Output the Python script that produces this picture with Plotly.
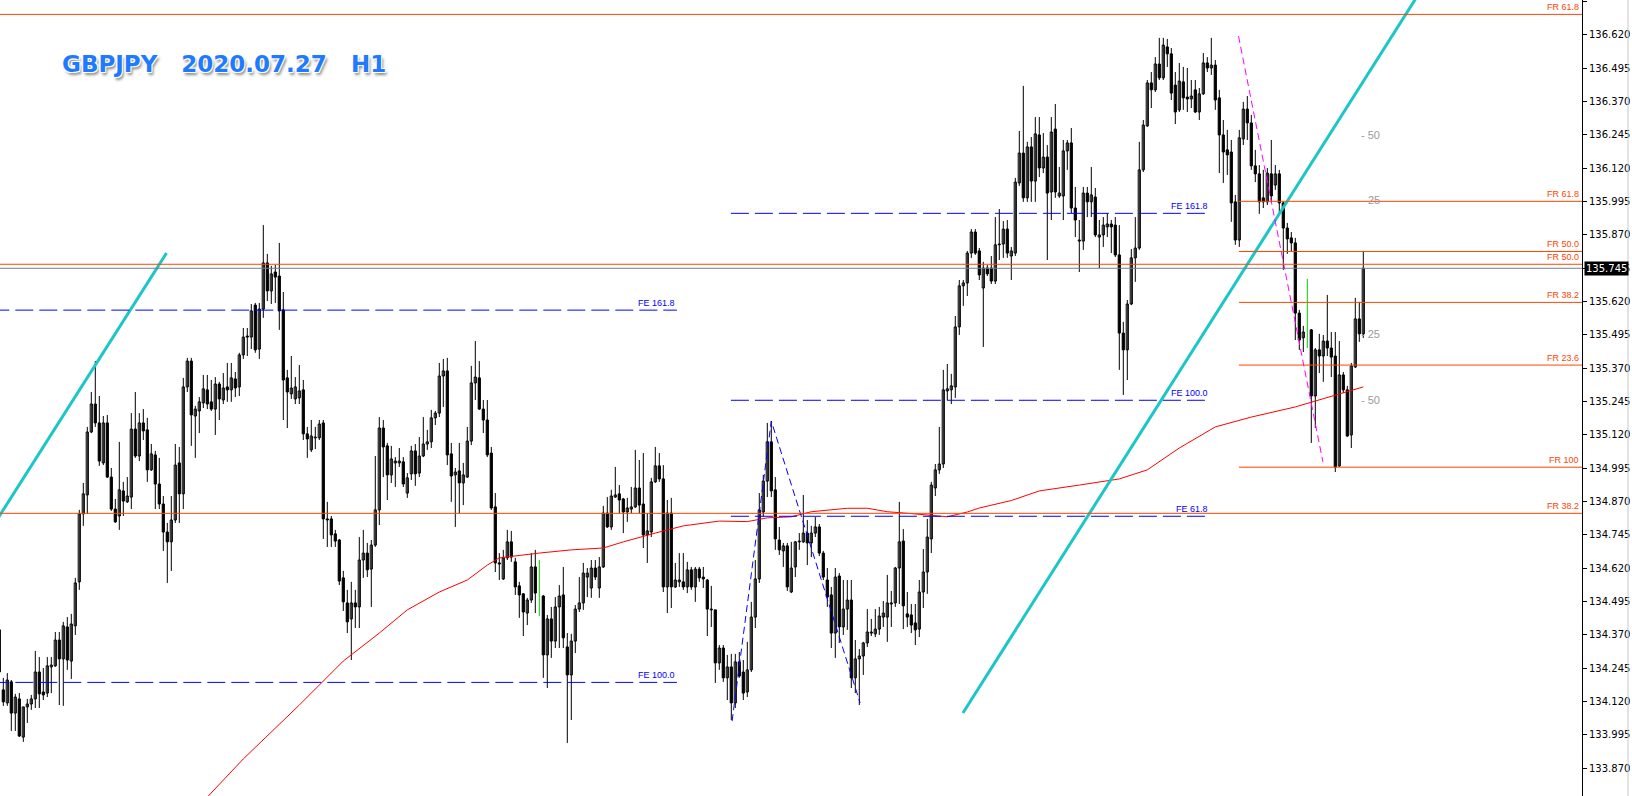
"""
GBPJPY H1 chart (MT4 style) rebuilt with Plotly
"""

import plotly.graph_objects as go

# ---- candle data, index 0 = leftmost bar on screen ----
opens = [
    134.389, 134.164, 134.115, 134.194, 134.077, 134.130, 133.987, 134.100, 134.111, 134.130,
    134.231, 134.156, 134.152, 134.250, 134.254, 134.351, 134.280, 134.400, 134.272, 134.404,
    134.569, 134.824, 134.895, 135.131, 135.236, 135.165, 135.015, 135.165, 134.962, 134.842,
    134.816, 134.910, 134.869, 134.887, 135.142, 135.041, 135.165, 135.139, 134.989, 135.045,
    134.936, 134.861, 134.756, 134.719, 134.801, 135.015, 134.899, 135.300, 135.397, 135.191,
    135.210, 135.240, 135.289, 135.244, 135.217, 135.311, 135.251, 135.300, 135.289, 135.330,
    135.300, 135.420, 135.491, 135.487, 135.607, 135.442, 135.592, 135.765, 135.660, 135.731,
    135.716, 135.589, 135.334, 135.274, 135.255, 135.259, 135.289, 135.124, 135.064, 135.109,
    135.109, 135.165, 134.805, 134.805, 134.749, 134.726, 134.584, 134.490, 134.430, 134.490,
    134.475, 134.651, 134.677, 134.617, 134.707, 134.839, 135.146, 135.079, 134.970, 135.015,
    135.015, 135.019, 134.902, 134.974, 135.060, 134.977, 135.041, 135.086, 135.094, 135.184,
    135.202, 135.341, 135.360, 135.049, 134.970, 134.985, 134.940, 134.962, 135.097, 135.315,
    135.334, 135.217, 135.176, 135.052, 134.850, 134.640, 134.580, 134.659, 134.719, 134.644,
    134.554, 134.524, 134.452, 134.501, 134.625, 134.520, 134.516, 134.295, 134.430, 134.347,
    134.475, 134.520, 134.325, 134.220, 134.347, 134.467, 134.490, 134.587, 134.546, 134.621,
    134.546, 134.625, 134.827, 134.775, 134.887, 134.899, 134.880, 134.831, 134.842, 134.850,
    134.921, 134.861, 134.745, 134.756, 134.944, 135.004, 134.955, 134.550, 134.827, 134.550,
    134.569, 134.569, 134.550, 134.614, 134.550, 134.617, 134.587, 134.576, 134.467, 134.464,
    134.265, 134.321, 134.209, 134.250, 134.115, 134.269, 134.231, 134.156, 134.239, 134.437,
    134.580, 134.831, 134.947, 135.094, 134.914, 134.726, 134.685, 134.704, 134.531, 134.625,
    134.719, 134.719, 134.752, 134.715, 134.752, 134.775, 134.677, 134.576, 134.520, 134.377,
    134.591, 134.400, 134.467, 134.501, 134.209, 134.280, 134.291, 134.340, 134.377, 134.374,
    134.392, 134.437, 134.437, 134.486, 134.490, 134.621, 134.722, 134.449, 134.445, 134.415,
    134.392, 134.531, 134.606, 134.730, 134.921, 134.989, 135.011, 135.285, 135.289, 135.300,
    135.525, 135.679, 135.690, 135.802, 135.881, 135.810, 135.671, 135.746, 135.746, 135.697,
    135.833, 135.836, 135.892, 135.791, 135.802, 136.065, 136.177, 136.009, 136.200, 136.072,
    136.245, 136.121, 136.162, 136.031, 136.267, 136.016, 136.016, 136.185, 136.215, 135.971,
    135.847, 135.847, 136.027, 135.994, 136.012, 135.862, 135.870, 135.900, 135.911, 135.907,
    135.795, 135.502, 135.439, 135.611, 135.784, 135.821, 136.114, 136.279, 136.440, 136.414,
    136.511, 136.459, 136.575, 136.549, 136.432, 136.339, 136.444, 136.387, 136.380, 136.414,
    136.331, 136.399, 136.515, 136.496, 136.507, 136.384, 136.245, 136.189, 136.181, 135.994,
    135.851, 136.230, 136.342, 136.290, 136.129, 136.099, 136.009, 135.994, 136.099, 136.057,
    136.099, 135.990, 135.896, 135.859, 135.840, 135.577, 135.484, 135.510, 135.514, 135.266,
    135.439, 135.416, 135.472, 135.446, 135.416, 135.004, 135.345, 135.289, 135.120, 135.375,
    135.555, 135.499,
]
highs = [
    134.422, 134.209, 134.227, 134.201, 134.149, 134.152, 134.100, 134.130, 134.145, 134.310,
    134.287, 134.246, 134.287, 134.287, 134.381, 134.381, 134.419, 134.437, 134.449, 134.584,
    134.839, 134.940, 135.150, 135.281, 135.397, 135.266, 135.191, 135.195, 134.996, 134.880,
    135.094, 134.944, 134.962, 135.202, 135.281, 135.202, 135.217, 135.184, 135.086, 135.060,
    135.034, 134.891, 134.790, 134.891, 135.086, 135.075, 135.334, 135.409, 135.409, 135.229,
    135.262, 135.345, 135.345, 135.326, 135.337, 135.319, 135.352, 135.390, 135.390, 135.356,
    135.428, 135.521, 135.521, 135.611, 135.615, 135.615, 135.907, 135.799, 135.754, 135.757,
    135.840, 135.656, 135.364, 135.416, 135.337, 135.382, 135.326, 135.150, 135.176, 135.150,
    135.176, 135.176, 134.869, 134.816, 134.764, 134.730, 134.610, 134.539, 134.569, 134.539,
    134.737, 134.764, 134.715, 134.726, 135.041, 135.187, 135.176, 135.090, 135.079, 135.037,
    135.071, 135.037, 134.977, 135.079, 135.086, 135.112, 135.187, 135.139, 135.214, 135.210,
    135.390, 135.405, 135.409, 135.090, 134.996, 135.090, 135.015, 135.150, 135.379, 135.472,
    135.397, 135.251, 135.251, 135.075, 134.902, 134.677, 134.689, 134.764, 134.760, 134.659,
    134.569, 134.527, 134.509, 134.677, 134.689, 134.651, 134.520, 134.445, 134.475, 134.512,
    134.557, 134.625, 134.377, 134.374, 134.482, 134.587, 134.640, 134.621, 134.651, 134.651,
    134.662, 134.854, 134.887, 134.914, 135.000, 134.932, 134.884, 134.884, 134.925, 135.064,
    135.026, 135.052, 134.827, 134.959, 135.075, 135.052, 135.007, 134.876, 134.884, 134.640,
    134.677, 134.677, 134.644, 134.625, 134.625, 134.625, 134.625, 134.580, 134.554, 134.464,
    134.332, 134.332, 134.295, 134.299, 134.299, 134.306, 134.276, 134.344, 134.494, 134.651,
    134.902, 134.970, 135.165, 135.172, 134.962, 134.775, 134.715, 134.715, 134.719, 134.722,
    134.752, 134.895, 134.801, 134.779, 134.812, 134.786, 134.685, 134.621, 134.550, 134.621,
    134.602, 134.576, 134.576, 134.576, 134.351, 134.317, 134.344, 134.467, 134.430, 134.467,
    134.475, 134.497, 134.595, 134.535, 134.625, 134.869, 134.767, 134.531, 134.486, 134.486,
    134.576, 134.692, 134.805, 134.944, 135.011, 135.150, 135.364, 135.386, 135.349, 135.566,
    135.701, 135.701, 135.810, 135.892, 135.892, 135.821, 135.769, 135.757, 135.791, 135.937,
    135.967, 135.922, 135.926, 135.825, 136.084, 136.260, 136.429, 136.219, 136.237, 136.312,
    136.312, 136.252, 136.207, 136.312, 136.361, 136.125, 136.226, 136.226, 136.271, 136.050,
    135.926, 136.050, 136.050, 136.125, 136.046, 135.926, 135.937, 135.952, 135.926, 135.937,
    135.907, 135.544, 135.626, 135.817, 135.937, 136.219, 136.301, 136.451, 136.481, 136.537,
    136.609, 136.609, 136.605, 136.571, 136.481, 136.515, 136.500, 136.496, 136.451, 136.451,
    136.421, 136.552, 136.537, 136.609, 136.526, 136.414, 136.301, 136.264, 136.226, 136.020,
    136.264, 136.369, 136.391, 136.320, 136.189, 136.132, 136.114, 136.121, 136.226, 136.132,
    136.114, 135.994, 135.915, 135.881, 135.859, 135.589, 135.529, 135.705, 135.517, 135.446,
    135.499, 135.495, 135.645, 135.506, 135.506, 135.472, 135.356, 135.304, 135.390, 135.634,
    135.619, 135.810,
]
lows = [
    134.164, 134.104, 134.104, 134.010, 134.010, 133.987, 133.969, 134.040, 134.089, 134.096,
    134.096, 134.126, 134.137, 134.152, 134.250, 134.107, 134.104, 134.239, 134.205, 134.370,
    134.539, 134.779, 134.824, 135.127, 135.150, 135.004, 135.007, 134.959, 134.835, 134.790,
    134.764, 134.816, 134.865, 134.842, 135.034, 135.022, 135.101, 134.944, 134.985, 134.842,
    134.842, 134.685, 134.565, 134.610, 134.790, 134.790, 134.842, 135.281, 135.079, 135.034,
    135.127, 135.221, 135.217, 135.210, 135.120, 135.176, 135.236, 135.244, 135.244, 135.262,
    135.266, 135.405, 135.416, 135.442, 135.428, 135.405, 135.559, 135.622, 135.611, 135.615,
    135.514, 135.176, 135.146, 135.255, 135.236, 135.236, 135.101, 135.034, 135.056, 135.067,
    135.101, 134.730, 134.700, 134.700, 134.700, 134.557, 134.460, 134.377, 134.276, 134.396,
    134.396, 134.584, 134.587, 134.475, 134.700, 134.782, 134.962, 134.876, 134.940, 134.925,
    135.000, 134.925, 134.884, 134.951, 134.929, 134.962, 135.037, 135.064, 135.071, 135.157,
    135.187, 135.225, 135.007, 134.869, 134.775, 134.827, 134.857, 134.959, 135.082, 135.251,
    135.214, 135.127, 135.037, 134.839, 134.606, 134.576, 134.576, 134.651, 134.644, 134.520,
    134.434, 134.366, 134.407, 134.490, 134.452, 134.441, 134.209, 134.171, 134.284, 134.321,
    134.321, 134.321, 133.965, 134.051, 134.302, 134.456, 134.464, 134.512, 134.509, 134.576,
    134.509, 134.621, 134.771, 134.764, 134.884, 134.827, 134.752, 134.794, 134.827, 134.846,
    134.827, 134.696, 134.640, 134.737, 134.940, 134.944, 134.531, 134.452, 134.471, 134.546,
    134.550, 134.539, 134.527, 134.539, 134.494, 134.569, 134.546, 134.366, 134.400, 134.190,
    134.239, 134.194, 134.126, 134.051, 134.096, 134.209, 134.126, 134.137, 134.231, 134.396,
    134.565, 134.812, 134.887, 134.887, 134.689, 134.670, 134.625, 134.535, 134.527, 134.587,
    134.689, 134.715, 134.632, 134.662, 134.737, 134.666, 134.576, 134.475, 134.321, 134.284,
    134.340, 134.370, 134.389, 134.171, 134.152, 134.107, 134.220, 134.325, 134.366, 134.362,
    134.370, 134.400, 134.344, 134.400, 134.475, 134.486, 134.392, 134.400, 134.377, 134.332,
    134.362, 134.471, 134.524, 134.677, 134.891, 134.974, 134.996, 135.251, 135.236, 135.259,
    135.495, 135.604, 135.641, 135.784, 135.795, 135.701, 135.450, 135.716, 135.686, 135.686,
    135.776, 135.784, 135.784, 135.701, 135.791, 136.054, 135.994, 135.994, 135.994, 135.994,
    136.087, 136.102, 135.776, 135.926, 136.009, 136.009, 135.926, 136.114, 135.952, 135.862,
    135.731, 135.814, 135.937, 135.937, 135.862, 135.746, 135.825, 135.862, 135.802, 135.787,
    135.364, 135.270, 135.326, 135.607, 135.694, 135.814, 136.106, 136.275, 136.346, 136.406,
    136.451, 136.451, 136.500, 136.376, 136.286, 136.331, 136.339, 136.331, 136.346, 136.327,
    136.301, 136.395, 136.481, 136.470, 136.339, 136.102, 136.065, 136.095, 135.919, 135.833,
    135.825, 136.207, 136.226, 136.114, 136.068, 135.949, 135.971, 135.982, 135.990, 136.039,
    135.952, 135.739, 135.799, 135.806, 135.476, 135.439, 135.431, 135.446, 135.090, 135.146,
    135.352, 135.319, 135.416, 135.337, 134.981, 135.000, 135.277, 135.112, 135.071, 135.371,
    135.469, 135.484,
]
closes = [
    134.231, 134.119, 134.201, 134.077, 134.137, 133.991, 134.100, 134.111, 134.130, 134.231,
    134.149, 134.145, 134.254, 134.257, 134.351, 134.280, 134.404, 134.276, 134.411, 134.565,
    134.824, 134.899, 135.131, 135.236, 135.165, 135.022, 135.165, 134.962, 134.842, 134.794,
    134.914, 134.872, 134.891, 135.142, 135.041, 135.165, 135.135, 134.989, 135.049, 134.936,
    134.861, 134.756, 134.719, 134.801, 135.007, 134.899, 135.300, 135.397, 135.195, 135.217,
    135.244, 135.293, 135.236, 135.217, 135.311, 135.255, 135.296, 135.289, 135.334, 135.296,
    135.420, 135.487, 135.487, 135.585, 135.439, 135.592, 135.765, 135.660, 135.724, 135.712,
    135.585, 135.326, 135.281, 135.296, 135.300, 135.285, 135.124, 135.105, 135.116, 135.112,
    135.161, 134.805, 134.801, 134.745, 134.722, 134.572, 134.494, 134.419, 134.490, 134.475,
    134.651, 134.677, 134.614, 134.707, 134.839, 135.146, 135.075, 134.970, 135.030, 135.022,
    135.022, 134.936, 134.959, 135.060, 134.974, 135.041, 135.086, 135.094, 135.184, 135.202,
    135.341, 135.360, 135.045, 134.966, 134.981, 134.940, 134.970, 135.097, 135.315, 135.337,
    135.217, 135.176, 135.045, 134.846, 134.640, 134.636, 134.659, 134.719, 134.662, 134.550,
    134.520, 134.456, 134.501, 134.625, 134.527, 134.520, 134.295, 134.430, 134.347, 134.475,
    134.516, 134.359, 134.220, 134.347, 134.467, 134.490, 134.602, 134.602, 134.621, 134.587,
    134.625, 134.827, 134.775, 134.891, 134.895, 134.876, 134.831, 134.846, 134.850, 134.921,
    134.857, 134.745, 134.760, 134.944, 135.004, 134.955, 134.550, 134.827, 134.550, 134.576,
    134.576, 134.550, 134.614, 134.550, 134.617, 134.584, 134.580, 134.467, 134.464, 134.265,
    134.321, 134.209, 134.250, 134.115, 134.269, 134.216, 134.152, 134.239, 134.437, 134.580,
    134.839, 134.947, 135.094, 134.910, 134.730, 134.689, 134.704, 134.550, 134.621, 134.719,
    134.722, 134.752, 134.715, 134.752, 134.775, 134.677, 134.587, 134.512, 134.377, 134.587,
    134.400, 134.467, 134.501, 134.209, 134.280, 134.291, 134.340, 134.381, 134.381, 134.392,
    134.441, 134.452, 134.490, 134.490, 134.621, 134.719, 134.479, 134.437, 134.407, 134.389,
    134.531, 134.606, 134.737, 134.932, 134.989, 135.011, 135.289, 135.293, 135.304, 135.525,
    135.679, 135.690, 135.802, 135.881, 135.802, 135.720, 135.746, 135.724, 135.697, 135.833,
    135.836, 135.892, 135.802, 135.810, 136.068, 136.177, 136.009, 136.200, 136.072, 136.249,
    136.121, 136.162, 136.027, 136.256, 136.031, 136.027, 136.185, 136.215, 135.971, 135.926,
    135.851, 136.027, 135.994, 136.020, 135.870, 135.870, 135.907, 135.911, 135.900, 135.795,
    135.502, 135.439, 135.611, 135.784, 135.821, 136.114, 136.282, 136.440, 136.414, 136.511,
    136.459, 136.582, 136.549, 136.402, 136.331, 136.447, 136.384, 136.380, 136.391, 136.331,
    136.399, 136.515, 136.496, 136.507, 136.376, 136.245, 136.181, 136.170, 135.990, 135.851,
    136.234, 136.342, 136.290, 136.129, 136.099, 135.994, 135.994, 136.102, 136.016, 136.099,
    135.990, 135.896, 135.855, 135.840, 135.577, 135.476, 135.506, 135.510, 135.266, 135.439,
    135.416, 135.472, 135.446, 135.412, 135.000, 135.345, 135.289, 135.116, 135.379, 135.555,
    135.499, 135.745,
]

# bars painted green by the terminal
green_bars = [135, 327]

# moving average (red), sampled at bar indices
ma_idx = [52, 56, 61, 75, 86, 95, 102, 110, 117, 122, 125, 135, 143, 151, 156, 164, 171, 180,
          187, 192, 198, 203, 212, 217, 222, 228, 237, 242, 245, 253, 260, 270, 280, 287,
          295, 304, 313, 324, 333, 341]
ma_val = [133.762, 133.826, 133.905, 134.107, 134.272, 134.377, 134.464, 134.531, 134.576,
          134.632, 134.659, 134.677, 134.689, 134.696, 134.719, 134.752, 134.779, 134.797,
          134.795, 134.809, 134.813, 134.832, 134.845, 134.845, 134.832, 134.825, 134.813,
          134.831, 134.846, 134.874, 134.910, 134.932, 134.955, 134.989, 135.071, 135.150,
          135.187, 135.225, 135.266, 135.300]

# drawn objects: (bar index, price)
chan_left_x = [-1.0, 41.8]
chan_left_y = [134.792, 135.802]
chan_right_x = [240.9, 356.0]
chan_right_y = [134.077, 136.801]
abc_x = [183.2, 193.0, 215.2]
abc_y = [134.047, 135.172, 134.115]
swing_x = [309.8, 330.9]
swing_y = [136.616, 135.019]

fr_full_levels = [136.697, 135.760, 134.826]
fr_full_labels = ["FR 61.8", "FR 50.0", "FR 38.2"]
fr_short_levels = [135.996, 135.808, 135.617, 135.382, 134.999]
fr_short_labels = ["FR 61.8", "FR 50.0", "FR 38.2", "FR 23.6", "FR 100"]
fr_short_start = 309.9

fe_left_levels = [135.588, 134.192]
fe_left_labels = ["FE 161.8", "FE 100.0"]
fe_left_end = 169.4
fe_right_levels = [135.951, 135.250, 134.815]
fe_right_labels = ["FE 161.8", "FE 100.0", "FE 61.8"]
fe_right_range = [182.9, 302.7]

grey_levels = [136.244, 136.000, 135.500, 135.250]
grey_labels = ["- 50", "25", "- 25", "- 50"]

last_price = 135.745

y_ticks = [133.870, 133.995, 134.120, 134.245, 134.370, 134.495, 134.620, 134.745,
           134.870, 134.995, 135.120, 135.245, 135.370, 135.495, 135.620, 135.745,
           135.870, 135.995, 136.120, 136.245, 136.370, 136.495, 136.620, 136.745]

FR_COLOR = "#FF4500"
FE_COLOR = "#0000FF"
LABEL_FONT = "Liberation Sans"

fig = go.Figure()

# wicks
wick_x, wick_y, green_x, green_y = [], [], [], []
for i in range(len(closes)):
    if i in green_bars:
        green_x += [i, i, None]
        green_y += [lows[i], highs[i], None]
    else:
        wick_x += [i, i, None]
        wick_y += [lows[i], highs[i], None]

fig.add_trace(go.Scatter(x=wick_x, y=wick_y, mode="lines",
                         line=dict(color="black", width=1), hoverinfo="skip"))
fig.add_trace(go.Scatter(x=green_x, y=green_y, mode="lines",
                         line=dict(color="#00CC00", width=1), hoverinfo="skip"))

# bodies: white = bull, black = bear
for bull in (True, False):
    sel = [i for i in range(len(closes))
           if i not in green_bars and (closes[i] >= opens[i]) == bull]
    fig.add_trace(go.Bar(
        x=sel,
        y=[max(abs(closes[i] - opens[i]), 0.0012) for i in sel],
        base=[min(opens[i], closes[i]) for i in sel],
        width=0.55,
        marker=dict(color="white" if bull else "black",
                    line=dict(color="black", width=1)),
        hoverinfo="skip",
    ))

# moving average
fig.add_trace(go.Scatter(x=ma_idx, y=ma_val, mode="lines",
                         line=dict(color="#FF0000", width=1), hoverinfo="skip"))

# channel lines
for xs, ys in ((chan_left_x, chan_left_y), (chan_right_x, chan_right_y)):
    fig.add_trace(go.Scatter(x=xs, y=ys, mode="lines",
                             line=dict(color="#1CC6C6", width=3), hoverinfo="skip"))

fig.add_trace(go.Scatter(x=abc_x, y=abc_y, mode="lines",
                         line=dict(color=FE_COLOR, width=1, dash="7px,4px"), hoverinfo="skip"))
fig.add_trace(go.Scatter(x=swing_x, y=swing_y, mode="lines",
                         line=dict(color="#FF00FF", width=1, dash="7px,4px"), hoverinfo="skip"))

annotations = []

# retracement levels
for lvl, txt in zip(fr_full_levels, fr_full_labels):
    fig.add_shape(type="line", xref="paper", x0=0, x1=1, yref="y", y0=lvl, y1=lvl,
                  line=dict(color=FR_COLOR, width=1), layer="above")
    annotations.append(dict(xref="paper", x=1, xanchor="right", xshift=-1, yref="y", y=lvl,
                            yanchor="bottom", text=txt, showarrow=False,
                            font=dict(family=LABEL_FONT, size=9, color=FR_COLOR)))
for lvl, txt in zip(fr_short_levels, fr_short_labels):
    fig.add_shape(type="line", xref="x", x0=fr_short_start, x1=395.675, yref="y", y0=lvl, y1=lvl,
                  line=dict(color=FR_COLOR, width=1), layer="above")
    annotations.append(dict(xref="paper", x=1, xanchor="right", xshift=-1, yref="y", y=lvl,
                            yanchor="bottom", text=txt, showarrow=False,
                            font=dict(family=LABEL_FONT, size=9, color=FR_COLOR)))

# expansion levels
for lvl, txt in zip(fe_left_levels, fe_left_labels):
    fig.add_shape(type="line", xref="x", x0=-2, x1=fe_left_end, yref="y", y0=lvl, y1=lvl,
                  line=dict(color=FE_COLOR, width=1, dash="18px,6px"), layer="above")
    annotations.append(dict(xref="x", x=fe_left_end, xanchor="right", yref="y", y=lvl,
                            yanchor="bottom", text=txt, showarrow=False,
                            font=dict(family=LABEL_FONT, size=9, color=FE_COLOR)))
for lvl, txt in zip(fe_right_levels, fe_right_labels):
    fig.add_shape(type="line", xref="x", x0=fe_right_range[0], x1=fe_right_range[1],
                  yref="y", y0=lvl, y1=lvl,
                  line=dict(color=FE_COLOR, width=1, dash="18px,6px"), layer="above")
    annotations.append(dict(xref="x", x=fe_right_range[1], xanchor="right", yref="y", y=lvl,
                            yanchor="bottom", text=txt, showarrow=False,
                            font=dict(family=LABEL_FONT, size=9, color=FE_COLOR)))

# current price line + tag
fig.add_shape(type="line", xref="paper", x0=0, x1=1, yref="y", y0=last_price, y1=last_price,
              line=dict(color="#708090", width=1), layer="above")
annotations.append(dict(xref="paper", x=1, xanchor="left", xshift=2, yref="y", y=last_price,
                        yanchor="middle", text=f"{last_price:.3f}", showarrow=False,
                        bgcolor="black", borderpad=1,
                        font=dict(family="DejaVu Sans", size=10, color="white")))

# grey level marks
for lvl, txt in zip(grey_levels, grey_labels):
    annotations.append(dict(xref="x", x=345.7, xanchor="right", yref="y", y=lvl,
                            yanchor="middle", text=txt, showarrow=False,
                            font=dict(family=LABEL_FONT, size=11, color="#9A9A9A")))

# title
annotations.append(dict(
    xref="paper", x=60 / 1582, xanchor="left", yref="paper", y=1 - 63.5 / 796, yanchor="middle",
    text="<b>GBPJPY&nbsp;&nbsp;&nbsp;2020.07.27&nbsp;&nbsp;&nbsp;H1</b>", showarrow=False,
    font=dict(family="DejaVu Sans", size=23, color="#1E7BFF",
              shadow="-1px -1px 0 #fff, 1px -1px 0 #fff, -1px 1px 0 #fff, 1px 1px 0 #fff, 2px 3px 3px #8a8a8a"),
))

# window border at far right
fig.add_shape(type="line", xref="paper", x0=1628 / 1582, x1=1628 / 1582, yref="paper", y0=0, y1=1,
              line=dict(color="#C8C8C8", width=1))

fig.update_layout(
    width=1632,
    height=796,
    margin=dict(l=0, r=50, t=0, b=0),
    paper_bgcolor="white",
    plot_bgcolor="white",
    showlegend=False,
    barmode="overlay",
    hovermode=False,
    annotations=annotations,
    xaxis=dict(range=[0.175, 395.675], visible=False, showgrid=False, zeroline=False),
    yaxis=dict(
        range=[133.766, 136.751],
        side="right",
        showgrid=False,
        zeroline=False,
        showline=True,
        linecolor="black",
        linewidth=1,
        ticks="outside",
        ticklen=4,
        tickcolor="black",
        tickvals=y_ticks,
        ticktext=[f"{v:.3f}" for v in y_ticks],
        tickfont=dict(family="DejaVu Sans", size=10, color="black"),
    ),
)

# page body has an 8px default margin; remove it so the chart fills the window
fig.write_html("out.html", config={"displayModeBar": False},
               post_script="document.body.style.margin='0';")
